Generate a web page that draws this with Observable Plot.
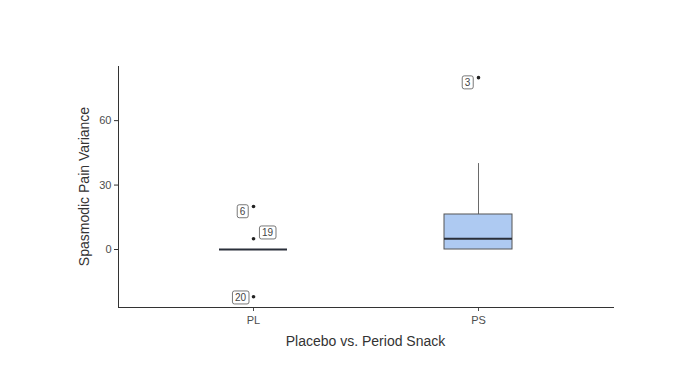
<!DOCTYPE html>
<html>
<head>
<meta charset="utf-8">
<script src="https://cdn.jsdelivr.net/npm/d3@7"></script>
<script src="https://cdn.jsdelivr.net/npm/@observablehq/plot@0.6"></script>
<style>
  html, body { margin: 0; padding: 0; background: #fff; }
  svg { font-family: "Liberation Sans", Arial, sans-serif; }
</style>
</head>
<body>
<div id="chart"></div>
<script>
// Box summary per group
const groups = ["PL", "PS"];
const q1 = [0, 0];
const median = [0, 5];
const q3 = [0, 16.3];
const whiskerLow = [0, 0];
const whiskerHigh = [0, 40];
// Outliers
const outlierGroup = ["PL", "PL", "PL", "PS"];
const outlierValue = [20, 5, -22, 80];
const outlierLabel = ["6", "19", "20", "3"];
const yTicks = [0, 30, 60];

const boxes = groups.map((g, i) => ({
  g, q1: q1[i], med: median[i], q3: q3[i], lo: whiskerLow[i], hi: whiskerHigh[i]
}));
const outliers = outlierGroup.map((g, i) => ({g, v: outlierValue[i], label: outlierLabel[i]}));

// label placement (repel-like nudges, in pixels)
const nudge = {"6": [-11, 5], "19": [14, -6], "20": [-13, 1], "3": [-11, 5]};

const labelMarks = outliers.map(o => Plot.text([o], {
  x: "g", y: "v", text: "label",
  dx: nudge[o.label][0], dy: nudge[o.label][1],
  fill: "#444", fontSize: 10, className: "lbl"
}));

const chart = Plot.plot({
  width: 699,
  height: 368,
  marginLeft: 118,
  marginRight: 86,
  marginTop: 66,
  marginBottom: 61,
  style: {fontFamily: "Liberation Sans, Arial, sans-serif", fontSize: "11px", color: "#4d4d4d"},
  x: {domain: groups, type: "band", paddingInner: 0.7, paddingOuter: 0.447, label: null},
  y: {domain: [-27, 85.2], ticks: yTicks, label: null},
  marks: [
    Plot.ruleX(boxes, {x: "g", y1: "q3", y2: "hi", stroke: "#6a6a6a", strokeWidth: 1}),
    Plot.ruleX(boxes, {x: "g", y1: "lo", y2: "q1", stroke: "#6a6a6a", strokeWidth: 1}),
    Plot.barY(boxes, {x: "g", y1: "q1", y2: "q3", fill: "#aecaf2", stroke: "#555", strokeWidth: 1}),
    Plot.tickY(boxes, {x: "g", y: "med", stroke: "#2a2f3a", strokeWidth: 2}),
    Plot.dot(outliers, {x: "g", y: "v", r: 1.8, fill: "#222", stroke: null}),
    ...labelMarks,
    Plot.axisY({ticks: yTicks, tickSize: 4, tickPadding: 3, stroke: "#333", fontSize: 11, className: "ax"}),
    Plot.axisX({tickSize: 4, tickPadding: 5, fontSize: 11, className: "ax"}),
    Plot.frame({anchor: "left", stroke: "#333"}),
    Plot.frame({anchor: "bottom", stroke: "#333"})
  ]
});

document.getElementById("chart").appendChild(chart);

// tick label colour
d3.select(chart).selectAll("g.ax text").attr("fill", "#4d4d4d");

// Draw rounded boxes behind the outlier labels (like ggrepel labels)
d3.select(chart).selectAll("g.lbl text").each(function() {
  const b = this.getBBox();
  const padX = 2.5, padY = 1;
  const r = document.createElementNS("http://www.w3.org/2000/svg", "rect");
  r.setAttribute("x", b.x - padX);
  r.setAttribute("y", b.y - padY);
  r.setAttribute("width", b.width + 2 * padX);
  r.setAttribute("height", b.height + 2 * padY);
  r.setAttribute("rx", 2);
  r.setAttribute("fill", "white");
  r.setAttribute("stroke", "#555");
  r.setAttribute("stroke-width", 0.8);
  const tr = this.getAttribute("transform");
  if (tr) r.setAttribute("transform", tr);
  this.parentNode.insertBefore(r, this);
});

// X and Y axis titles
const svg = d3.select(chart);
svg.append("text")
  .attr("x", 365.5).attr("y", 346)
  .attr("text-anchor", "middle")
  .attr("font-size", 14).attr("fill", "#333")
  .text("Placebo vs. Period Snack");
svg.append("text")
  .attr("transform", "translate(89,186.5) rotate(-90)")
  .attr("text-anchor", "middle")
  .attr("font-size", 14).attr("fill", "#333")
  .text("Spasmodic Pain Variance");
</script>
</body>
</html>
